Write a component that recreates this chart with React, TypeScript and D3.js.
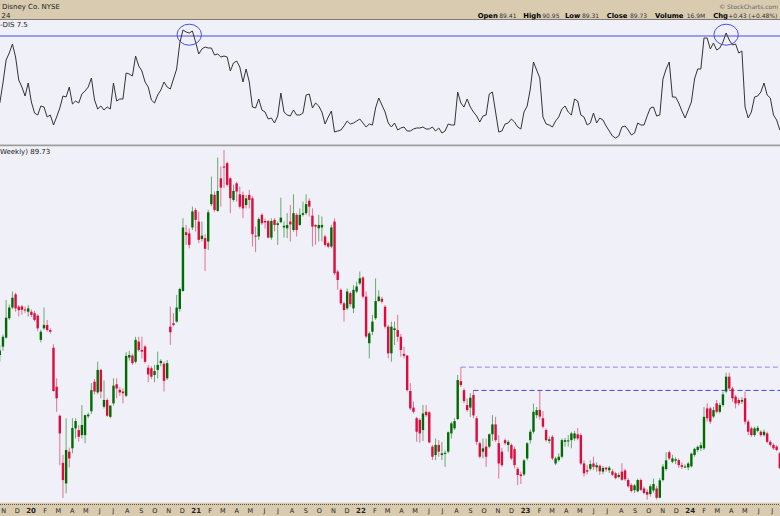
import React from 'react';
import * as d3 from 'd3';

// ---------- DATA (weekly candles, first week starting Mon Oct 28 2019) ----------
const firstWeek = new Date(2019, 9, 28);

const opens = [
  130.0,133.0,136.2,143.1,146.9,151.6,147.2,147.3,146.2,145.4,
  145.4,144.9,144.0,135.4,139.5,140.7,138.9,132.6,118.7,108.4,
  91.6,84.3,95.6,96.8,103.9,103.3,101.5,101.5,108.2,110.0,
  120.5,116.7,124.7,111.6,114.0,108.0,112.8,119.6,117.6,117.0,
  115.5,129.1,129.8,127.6,134.8,131.8,133.0,125.5,125.3,122.9,
  124.7,127.1,126.9,121.7,140.1,141.3,141.9,146.4,152.8,173.7,
  173.3,175.4,181.6,177.5,171.3,171.6,170.4,183.7,187.0,181.3,
  192.9,197.1,198.3,192.9,185.2,191.1,187.2,187.0,183.4,187.0,
  185.8,172.5,172.2,179.9,177.7,177.7,171.8,178.1,176.3,177.3,
  175.4,175.1,177.5,174.5,179.9,176.3,179.9,180.5,184.9,179.6,
  176.3,175.1,175.4,172.2,169.8,168.6,177.5,159.7,153.2,148.4,
  146.6,152.0,146.6,152.6,155.5,157.6,150.8,134.2,138.3,143.1,
  149.2,150.0,147.2,140.1,130.6,138.9,138.9,136.5,130.4,129.8,
  117.2,111.3,107.5,106.9,103.3,109.8,109.6,97.4,94.4,98.0,
  94.4,94.8,95.6,102.1,103.9,107.2,120.7,117.5,112.2,111.3,
  115.8,107.5,98.6,95.6,97.4,97.4,101.8,105.3,98.6,95.6,
  99.7,98.0,98.0,96.5,89.5,87.5,87.5,93.2,99.7,102.7,
  108.6,110.5,107.5,103.3,99.4,100.9,91.4,92.6,93.8,99.1,
  99.3,99.7,100.3,101.8,101.5,91.4,89.0,89.5,91.4,90.0,
  90.6,88.5,89.9,89.0,88.6,87.9,86.6,88.5,88.9,85.5,
  83.7,81.9,81.5,85.5,82.5,81.3,80.5,81.8,82.5,79.2,
  85.5,89.4,95.4,92.0,92.4,92.6,90.8,90.2,90.0,90.4,
  94.4,96.2,96.8,96.8,111.0,111.0,108.1,112.8,109.8,112.2,
  117.0,122.3,118.1,115.2,114.0,113.4,114.6,106.3,103.9,101.5,
  103.0,102.7,101.5,102.1,99.1,98.0,97.4,95.0,
];

const highs = [
  133.6,137.3,149.6,148.0,152.6,152.2,147.8,147.8,147.2,147.8,
  146.2,145.7,144.5,139.0,146.9,142.5,139.5,133.8,121.7,108.8,
  94.5,107.5,97.0,107.5,107.5,105.1,112.2,108.8,109.5,120.0,
  121.5,127.6,125.0,121.0,114.6,112.2,121.7,121.7,118.5,118.1,
  131.0,131.5,130.5,136.5,136.5,136.5,133.6,126.5,126.0,126.5,
  131.2,128.5,127.6,128.2,147.2,144.9,151.4,154.0,178.7,176.3,
  175.1,182.8,182.3,181.0,177.5,173.0,181.7,193.5,188.2,200.3,
  197.1,203.0,198.8,193.2,190.6,191.7,190.0,188.2,187.0,188.8,
  186.5,175.7,179.0,180.5,178.5,178.1,178.7,178.7,177.5,186.0,
  177.5,180.5,183.4,187.2,180.5,182.2,184.6,187.2,185.8,182.2,
  176.5,179.9,179.3,172.8,170.4,176.3,178.6,160.3,153.7,149.0,
  153.7,152.6,154.9,156.1,159.7,158.0,152.6,138.3,144.3,157.3,
  153.0,150.8,147.8,140.7,141.9,141.9,144.3,137.5,133.0,130.0,
  120.0,113.4,108.0,107.5,112.2,112.2,110.0,98.0,100.3,99.7,
  99.1,96.0,102.8,106.3,107.5,122.9,125.7,118.1,114.6,116.4,
  117.4,108.2,99.2,100.3,100.3,102.1,108.6,108.0,101.5,97.0,
  100.3,99.7,98.6,97.4,90.2,88.5,93.0,99.0,103.5,112.7,
  111.5,117.4,110.0,103.9,101.0,101.5,93.8,95.0,100.3,100.5,
  101.5,102.7,103.0,104.0,102.1,92.5,90.8,92.5,93.8,91.8,
  91.0,90.5,90.2,90.5,89.4,88.4,88.1,91.5,89.5,86.2,
  84.3,84.1,86.0,86.1,83.2,82.2,84.0,86.0,83.4,86.2,
  91.2,95.4,96.0,94.5,93.6,93.2,91.8,91.1,92.0,95.3,
  97.0,97.8,99.0,111.5,112.8,111.6,111.5,114.0,113.0,117.0,
  123.7,123.7,118.7,115.8,114.8,115.0,117.0,107.0,104.5,104.5,
  104.8,103.3,103.5,102.7,99.7,98.6,97.9,95.5,
];

const lows = [
  127.6,131.5,135.8,142.5,146.3,145.4,143.7,144.3,145.0,143.7,
  143.5,142.0,138.5,134.5,139.0,138.3,137.7,117.0,109.8,90.8,
  79.1,80.8,90.0,95.0,100.3,99.2,100.3,98.6,107.5,109.0,
  116.0,116.0,114.6,111.0,108.0,107.5,112.0,114.6,115.5,112.8,
  115.0,128.0,126.5,127.0,131.2,128.8,127.0,120.3,121.5,120.3,
  121.7,126.0,117.0,121.1,133.6,140.2,141.5,145.4,152.5,169.2,
  168.0,174.5,174.0,169.8,170.4,159.9,167.4,183.0,181.0,181.0,
  182.8,189.4,190.0,180.5,184.6,184.6,182.2,178.7,182.2,182.2,
  168.6,166.6,171.0,176.3,175.0,171.5,171.0,174.0,169.2,176.9,
  171.8,171.6,170.4,173.9,172.2,176.0,179.3,179.9,179.3,168.6,
  169.2,170.4,170.4,168.6,168.0,168.0,158.5,153.2,147.8,141.9,
  146.0,147.2,144.9,152.0,154.9,150.2,136.0,128.8,137.1,142.5,
  149.0,148.4,139.5,128.8,127.6,133.6,134.8,129.4,128.8,117.0,
  110.4,109.2,99.1,98.8,99.4,108.0,98.6,92.6,92.6,93.8,
  92.6,90.2,95.0,100.3,103.3,106.9,118.7,112.8,109.8,108.0,
  107.5,98.0,93.2,93.2,90.2,96.8,99.4,99.1,86.0,90.2,
  98.0,95.6,92.6,89.6,83.7,84.1,86.9,92.5,98.5,102.0,
  107.5,107.0,103.9,99.1,98.5,92.6,90.8,92.0,93.2,97.4,
  97.4,96.8,99.5,99.7,90.8,86.7,87.5,88.8,89.1,88.5,
  87.3,87.6,88.5,88.0,86.9,85.8,86.1,85.2,85.2,82.8,
  81.1,80.9,81.2,81.6,80.4,78.5,79.6,81.0,78.6,79.0,
  85.0,88.8,92.6,91.5,91.2,89.8,89.4,89.8,89.0,90.0,
  93.8,95.4,95.8,96.2,106.3,105.5,107.5,109.2,109.2,111.6,
  116.4,117.5,113.4,111.0,112.0,112.6,105.3,101.5,100.9,100.9,
  102.5,100.9,100.9,98.6,97.4,96.2,95.8,89.3,
];

const closes = [
  131.6,136.5,143.3,146.9,150.4,146.6,146.0,146.1,145.9,146.6,
  144.3,142.5,139.5,138.3,140.7,138.9,138.3,117.2,114.6,102.1,
  85.5,96.2,93.2,104.0,106.5,100.9,105.1,108.6,108.8,117.5,
  117.0,124.7,117.0,114.0,108.4,112.0,119.1,118.1,116.7,116.4,
  129.7,130.0,127.1,135.4,131.8,131.2,127.6,123.1,122.3,124.3,
  126.5,127.9,120.8,127.1,138.1,140.7,146.9,153.5,175.4,172.7,
  169.2,181.1,178.1,171.0,172.5,167.8,180.8,187.2,181.6,188.4,
  189.6,196.7,190.6,185.8,188.4,188.2,182.8,182.2,185.8,185.2,
  173.0,172.2,178.4,176.9,177.2,171.8,177.7,176.3,176.9,178.9,
  176.0,176.3,176.5,180.5,174.5,179.9,180.5,183.7,182.8,175.7,
  175.7,176.3,176.3,169.2,168.6,175.4,159.1,156.7,148.4,146.0,
  152.6,148.1,153.2,154.4,157.3,150.8,136.6,137.7,141.9,149.2,
  150.8,149.0,140.1,130.6,140.1,139.5,136.5,131.8,129.7,117.5,
  111.0,109.8,102.7,102.1,109.2,108.6,98.9,93.8,98.0,95.6,
  95.0,95.2,102.5,105.7,106.5,121.1,119.3,113.6,110.4,114.8,
  108.5,99.1,93.8,96.8,93.8,101.8,105.3,99.7,91.4,90.8,
  98.6,99.1,93.2,90.8,87.3,86.9,92.5,98.6,102.7,109.8,
  110.4,108.1,104.5,99.7,100.0,93.2,93.2,93.8,99.7,99.7,
  99.6,102.1,102.1,100.3,91.4,87.9,88.5,91.2,90.2,90.8,
  88.6,89.8,89.3,89.9,87.4,86.2,87.3,85.6,85.8,83.3,
  81.6,83.6,85.5,82.0,80.9,80.3,83.3,84.1,79.2,85.4,
  90.3,92.5,93.2,93.2,92.9,90.8,90.2,90.3,91.4,94.9,
  96.6,97.3,97.9,108.0,107.5,106.3,110.4,109.8,112.2,116.0,
  122.3,118.1,114.6,112.8,112.8,114.0,106.3,102.7,101.5,103.9,
  104.1,101.5,102.7,99.1,98.0,96.8,96.2,89.73,
];

// upper indicator panel values (one per week)
const oscValues = [
  21,31,42.5,46,50.5,44,32.5,29,24.5,31,
  21.5,16,15,19.5,19,14,15,10,14,18.5,
  24.5,24,29,20.5,22,21,25.5,27,29,33.5,
  22.5,18,19.5,17.5,19,18,31,22,23,23,
  36,35.5,34.5,44.5,39.5,37,31.5,29,22.5,21,
  25,27.5,31.5,29,28,33,38,51,57.5,56.5,
  56,57,51.5,45.5,48,49,48.5,48.5,45,45.5,
  44,44.5,44,37,41,42,39,31.5,38,31.5,
  19,18.5,23,17.5,16.5,13,13.5,11,14.5,26,
  16.5,15,14.5,17.5,15,15,16,25,25.5,18.5,
  21,19.5,16.5,10.5,14,17,6.5,7,7.5,9.5,
  12,10.5,11,12,13,11,9,10.5,10,18.5,
  23.5,20,16.5,11,9,11,7.5,8.5,9,7,
  7,8,8.5,8.5,9,8,8,9,7,8.5,
  6,7,10.5,10,10,26.5,21,19,23,19,
  16.5,14.5,11.5,14.5,15,25.5,26.5,16.5,6.5,7,
  10.5,11,13,11.5,9,8,16.5,19.5,28,41.5,
  37.5,33.5,14,10.5,10,9,12,14,18,19.5,
  16.5,15,23,22,15,14,10,11,16,11,
  13.5,12.5,9.5,7,4.5,3.5,4.5,9,9.5,7.5,
  5,6,11,10,10,14.5,18.5,19,14.5,15,
  33,38,41.5,24,24,21,17,13.5,17.5,21.5,
  33,38,38,53.5,53.5,48,51,47.5,48.5,51.5,
  56,52.5,50,50.5,46,47,19,13.5,16.5,24,
  24.5,26.5,31,25,23.5,15,12.5,7.5,
];
const oscThreshold = 54.5;
const circledWeeks = [60, 230];

// horizontal resistance annotations (start week index, price)
const resistanceStarts = [146, 150];
const resistancePrices = [125.7, 117.4];
const resistanceColors = ['#8c8cf0', '#4646e0'];

const quoteLabels = ['Open', 'High', 'Low', 'Close', 'Volume', 'Chg'];
const quoteValues = ['89.41', '90.95', '89.31', '89.73', '16.9M', '+0.43 (+0.48%)'];
const quoteLabelX = [477.7, 523.3, 565, 606.7, 655, 713.3];
const quoteValueX = [499.3, 542.3, 582, 630, 686.7, 728.3];

const monthLetters = ['J', 'F', 'M', 'A', 'M', 'J', 'J', 'A', 'S', 'O', 'N', 'D'];

const W = 780;
const H = 516;
const FONT = 'DejaVu Sans, Verdana, sans-serif';
const TAN = '#d9cbb0';
const PANEL = '#f0f0f8';
const UP = '#006b00';
const DOWN = '#de0b3c';

export default function App() {
  const dates = opens.map((_, i) => d3.timeDay.offset(firstWeek, 7 * i));
  const x = d3.scaleTime().domain([dates[0], dates[dates.length - 1]]).range([-0.2, 779.8]);
  const yPrice = d3.scaleLinear().domain([78.4, 204.4]).range([500, 146]);
  const yOsc = d3.scaleLinear().domain([0, 55]).range([145, 35]);

  const oscLine = d3
    .line<number>()
    .x((_, i) => x(dates[i]))
    .y((v) => yOsc(v));

  const months = d3.timeMonth.range(new Date(2019, 10, 1), new Date(2024, 7, 1));
  const bodyW = 2.4;

  return (
    <svg
      width={W}
      height={H}
      style={{ position: 'absolute', left: 0, top: 0, display: 'block' }}
      fontFamily={FONT}
    >
      <defs>
        <clipPath id="oscClip">
          <rect x={0} y={20} width={W} height={124.5} />
        </clipPath>
        <clipPath id="priceClip">
          <rect x={0} y={146.5} width={W} height={356} />
        </clipPath>
      </defs>

      {/* header */}
      <rect x={0} y={0} width={W} height={19} fill={TAN} />
      <line x1={0} x2={W} y1={19.5} y2={19.5} stroke="#7c7c7c" />
      <text x={2} y={9.3} fontSize={7} fill="#222">Disney Co. NYSE</text>
      <text x={1.5} y={17.6} fontSize={7} fill="#222">24</text>
      <text x={778} y={8.5} fontSize={6} fill="#666" textAnchor="end">© StockCharts.com</text>
      {quoteLabels.map((l, i) => (
        <g key={l}>
          <text x={quoteLabelX[i]} y={18} fontSize={6.8} fontWeight="bold" fill="#000">{l}</text>
          <text x={quoteValueX[i]} y={18} fontSize={6} fill="#333">{quoteValues[i]}</text>
        </g>
      ))}

      {/* oscillator panel */}
      <rect x={0} y={20} width={W} height={124.5} fill={PANEL} />
      <g clipPath="url(#oscClip)">
        <line x1={0} x2={W} y1={yOsc(oscThreshold)} y2={yOsc(oscThreshold)} stroke="#4b4bdc" strokeWidth={1} />
        <path d={oscLine(oscValues) || ''} fill="none" stroke="#333" strokeWidth={1} />
        {circledWeeks.map((k) => (
          <ellipse
            key={k}
            cx={x(dates[k])}
            cy={yOsc(oscThreshold) - 1.3}
            rx={12.2}
            ry={10.5}
            fill="none"
            stroke="#4b4be8"
            strokeWidth={1}
          />
        ))}
      </g>
      <text x={0} y={27} fontSize={7} fill="#222">-DIS 7.5</text>

      {/* separator */}
      <rect x={0} y={144.5} width={W} height={2} fill="#9c9c9c" />

      {/* price panel */}
      <rect x={0} y={146.5} width={W} height={356} fill={PANEL} />
      <g clipPath="url(#priceClip)">
        {resistanceStarts.map((k, i) => (
          <line
            key={k}
            x1={x(dates[k])}
            x2={W}
            y1={yPrice(resistancePrices[i])}
            y2={yPrice(resistancePrices[i])}
            stroke={resistanceColors[i]}
            strokeWidth={1}
            strokeDasharray="5,3"
          />
        ))}
        {opens.map((o, i) => {
          const c = closes[i];
          const col = c >= o ? UP : DOWN;
          const cx = x(dates[i]);
          const top = yPrice(Math.max(o, c));
          const bot = yPrice(Math.min(o, c));
          return (
            <g key={i}>
              <line x1={cx} x2={cx} y1={yPrice(highs[i])} y2={yPrice(lows[i])} stroke={col} strokeWidth={1} strokeOpacity={0.55} />
              <rect x={cx - bodyW / 2} y={top} width={bodyW} height={Math.max(1, bot - top)} fill={col} />
            </g>
          );
        })}
      </g>
      <text x={0} y={154} fontSize={7} fill="#222">Weekly) 89.73</text>

      {/* bottom axis band */}
      <rect x={0} y={502.5} width={W} height={13.5} fill={TAN} />
      <line x1={0} x2={W} y1={504.5} y2={504.5} stroke="#555" strokeWidth={1} strokeDasharray="1,1" />
      {months.map((m) => {
        const isJan = m.getMonth() === 0;
        const label = isJan ? String(m.getFullYear()).slice(2) : monthLetters[m.getMonth()];
        return (
          <text
            key={m.toISOString()}
            x={x(m) + 2}
            y={513}
            fontSize={isJan ? 7 : 6.5}
            fontWeight={isJan ? 'bold' : 'normal'}
            textAnchor="middle"
            fill="#222"
          >
            {label}
          </text>
        );
      })}
    </svg>
  );
}
